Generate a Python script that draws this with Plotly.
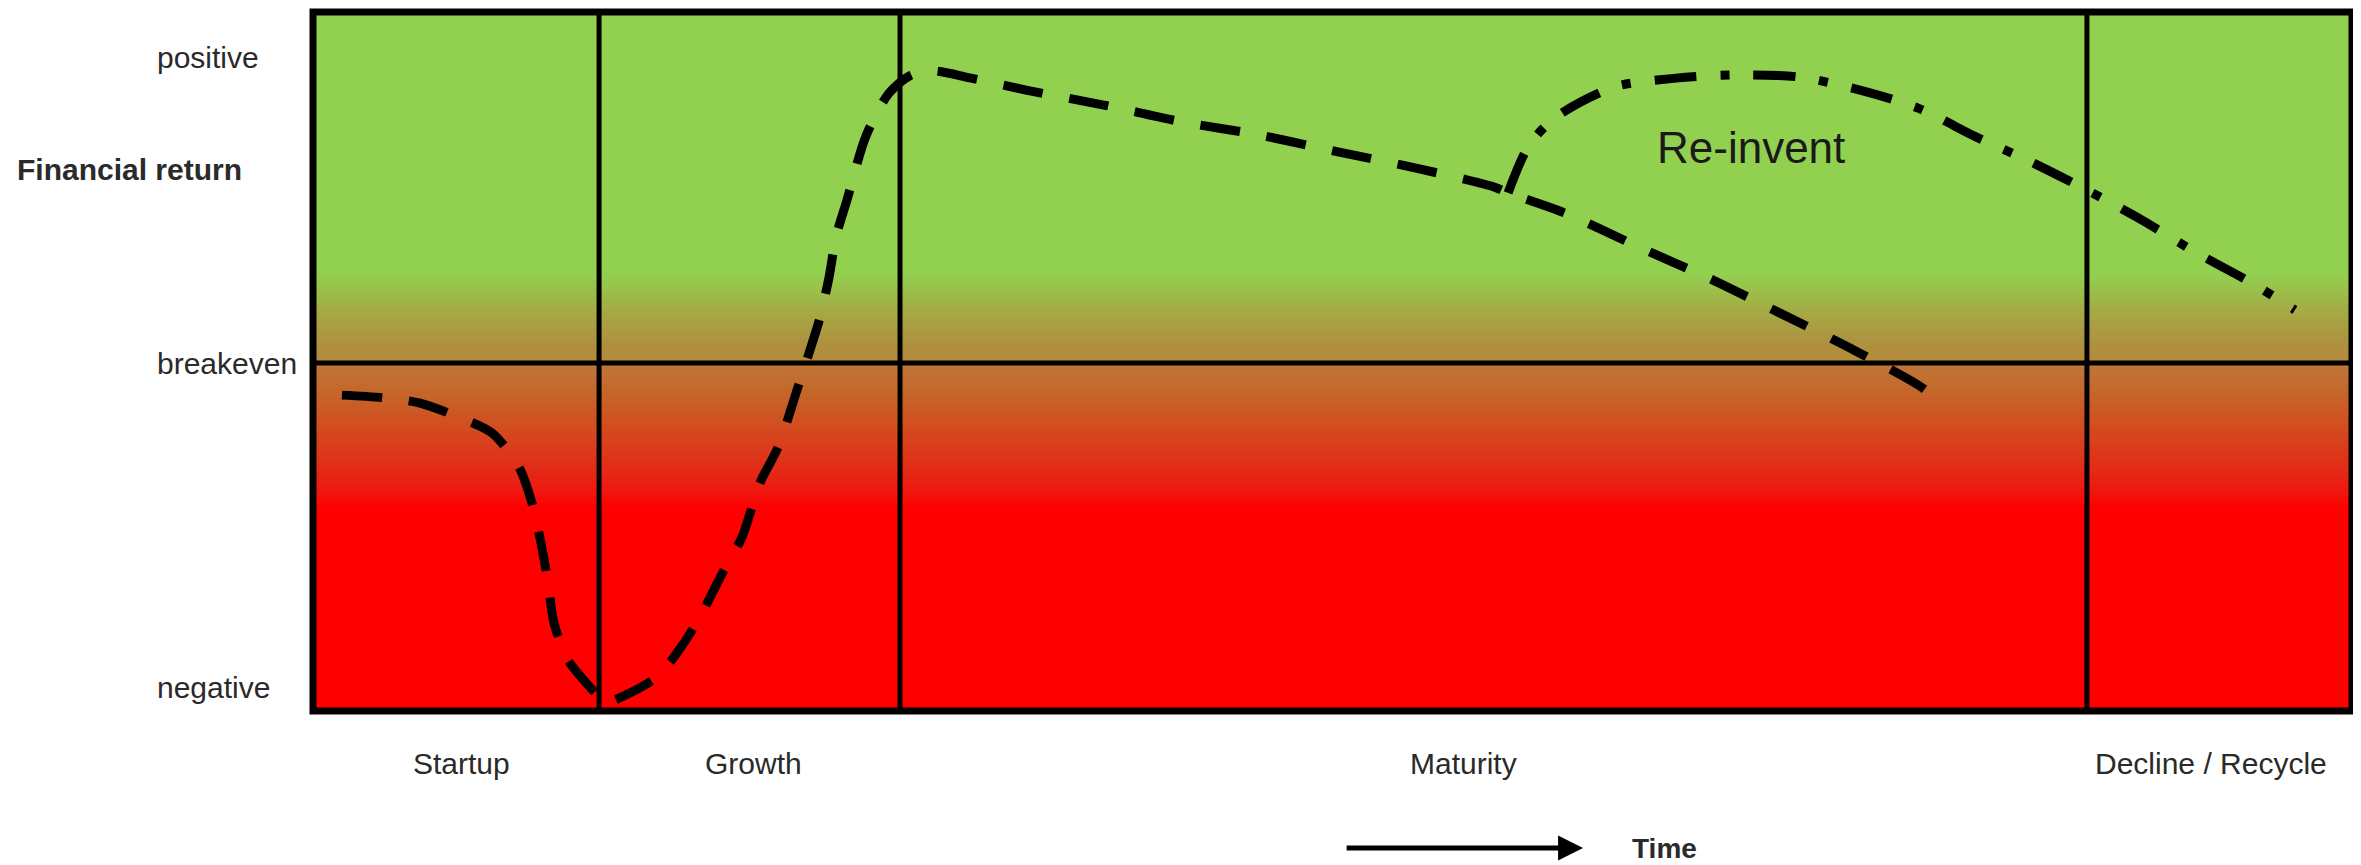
import numpy as np
import plotly.graph_objects as go

# ---------------- data (time 0..100, return: breakeven = 0, positive = 1) -------------
main_time = [1.42, 3.53, 5.25, 7.11, 8.78, 10.10, 10.74, 11.18, 11.53, 11.82, 12.51, 13.83,
             14.27, 14.66, 16.87, 18.19, 19.08, 20.16, 21.04, 21.92, 22.81, 23.69, 24.33,
             24.87, 25.31, 25.65, 26.19, 27.12, 28.25, 29.33, 30.46, 32.27, 34.97, 38.79,
             42.62, 46.44, 50.27, 54.10, 57.92, 58.61, 61.40, 65.03, 68.66, 71.95, 75.58,
             78.86, 79.94]
main_return = [-0.105, -0.114, -0.131, -0.176, -0.229, -0.340, -0.458, -0.588, -0.719, -0.850,
               -0.971, -1.078, -1.111, -1.105, -1.026, -0.915, -0.817, -0.676, -0.569, -0.392,
               -0.275, -0.098, 0.033, 0.150, 0.281, 0.412, 0.533, 0.742, 0.882, 0.941, 0.954,
               0.931, 0.892, 0.843, 0.788, 0.745, 0.690, 0.637, 0.575, 0.556, 0.490, 0.379,
               0.271, 0.163, 0.042, -0.078, -0.137]

reinvent_time = [58.61, 59.64, 60.96, 63.81, 66.85, 69.54, 72.83, 75.87, 78.72, 81.56, 84.26,
                 87.00, 89.70, 92.40, 95.10, 97.20]
reinvent_return = [0.556, 0.712, 0.804, 0.902, 0.931, 0.941, 0.935, 0.892, 0.833, 0.739, 0.657,
                   0.565, 0.467, 0.359, 0.261, 0.173]

phase_bounds = [14.03, 28.79, 87.0]
phase_labels = ["Startup", "Growth", "Maturity", "Decline / Recycle"]
phase_label_pos = [7.3, 21.6, 56.4, 93.1]

level_labels = ["positive", "breakeven", "negative"]
level_values = [1.0, 0.0, -1.059]

# background gradient stops (return value, colour)
grad_vals = [-1.1373, -0.471, -0.415, -0.327, -0.219, -0.088, -0.003, 0.003, 0.065, 0.163, 0.294, 1.1471]
grad_cols = ["#FF0000", "#FF0000", "#EE1810", "#E03018", "#D44A1E", "#C4682A", "#C0763A",
             "#B58A3A", "#AE9140", "#A6A844", "#92D050", "#92D050"]

Y_MIN, Y_MAX = -1.1373, 1.1471
X_MIN, X_MAX = 0, 100

FONT = "Liberation Sans, Arial, sans-serif"
TXT = "#2a2a2a"

span = Y_MAX - Y_MIN
colorscale = [[(v - Y_MIN) / span, c] for v, c in zip(grad_vals, grad_cols)]
colorscale[0][0] = 0.0
colorscale[-1][0] = 1.0

rows = np.linspace(Y_MIN, Y_MAX, 400)
fig = go.Figure()
fig.add_trace(go.Heatmap(
    x=[X_MIN, X_MAX], y=rows, z=[[v, v] for v in rows],
    zmin=Y_MIN, zmax=Y_MAX, colorscale=colorscale, showscale=False,
    zsmooth="best", hoverinfo="skip"))

fig.add_trace(go.Scatter(
    x=main_time, y=main_return, mode="lines",
    line=dict(color="black", width=9, dash="40px,27px", shape="spline", smoothing=0.8),
    hoverinfo="skip", showlegend=False))
fig.add_trace(go.Scatter(
    x=reinvent_time, y=reinvent_return, mode="lines",
    line=dict(color="black", width=9, dash="42px,24px,9px,24px", shape="spline", smoothing=0.8),
    hoverinfo="skip", showlegend=False))

shapes = []
for b in phase_bounds:
    shapes.append(dict(type="line", xref="x", yref="paper", x0=b, x1=b, y0=0, y1=1,
                       line=dict(color="black", width=5)))
shapes.append(dict(type="line", xref="paper", yref="y", x0=0, x1=1, y0=0, y1=0,
                   line=dict(color="black", width=5)))
shapes.append(dict(type="rect", xref="paper", yref="paper", x0=0, x1=1, y0=0, y1=1,
                   line=dict(color="black", width=7)))

ann = []
for lab, v in zip(level_labels, level_values):
    ann.append(dict(text=lab, xref="paper", yref="y", x=-0.0775, y=v, xanchor="left",
                    yanchor="middle", showarrow=False, font=dict(family=FONT, size=30, color=TXT)))
ann.append(dict(text="<b>Financial return</b>", xref="paper", yref="y", x=-0.1462, y=0.631,
                xanchor="left", yanchor="middle", showarrow=False,
                font=dict(family=FONT, size=30, color=TXT)))
for lab, p in zip(phase_labels, phase_label_pos):
    ann.append(dict(text=lab, xref="x", yref="paper", x=p, y=-0.0744, xanchor="center",
                    yanchor="middle", showarrow=False, font=dict(family=FONT, size=30, color=TXT)))
ann.append(dict(text="Re-invent", xref="x", yref="y", x=70.5, y=0.703, xanchor="center",
                yanchor="middle", showarrow=False, font=dict(family=FONT, size=44, color="#1a1a1a")))
# time arrow
ann.append(dict(text="", xref="paper", yref="paper", x=0.6229, y=-0.196,
                ax=-238, ay=0, axref="pixel", ayref="pixel", showarrow=True,
                arrowhead=2, arrowsize=1, arrowwidth=5, arrowcolor="black"))
ann.append(dict(text="<b>Time</b>", xref="paper", yref="paper", x=0.6629, y=-0.196,
                xanchor="center", yanchor="middle", showarrow=False,
                font=dict(family=FONT, size=28, color=TXT)))

# page body has an 8px margin, so the figure is sized/offset to compensate
fig.update_layout(
    width=2353, height=857,
    margin=dict(l=305, r=9, t=4, b=154, pad=0),
    paper_bgcolor="white", plot_bgcolor="white",
    shapes=shapes, annotations=ann, showlegend=False,
    xaxis=dict(range=[X_MIN, X_MAX], showgrid=False, zeroline=False, showticklabels=False,
               ticks="", fixedrange=True),
    yaxis=dict(range=[Y_MIN, Y_MAX], showgrid=False, zeroline=False, showticklabels=False,
               ticks="", fixedrange=True),
)

fig.write_html("out.html")
